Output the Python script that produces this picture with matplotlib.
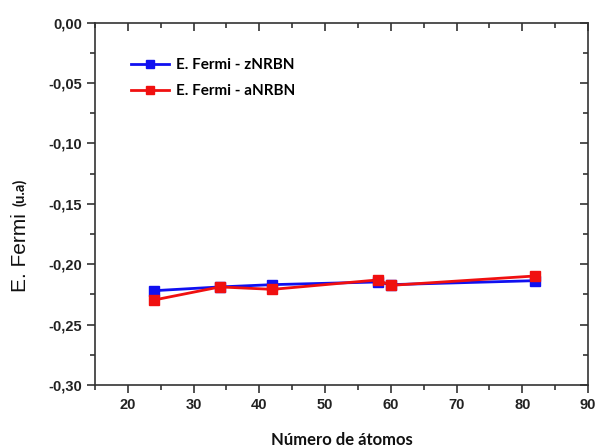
import matplotlib
matplotlib.use("Agg")
import matplotlib.pyplot as plt
from matplotlib.ticker import MultipleLocator, FuncFormatter

# Number of atoms and Fermi energy (u.a)
atoms = [24, 34, 42, 58, 60, 82]
fermi_z = [-0.2219, -0.2188, -0.2169, -0.2147, -0.2169, -0.2136]
fermi_a = [-0.2296, -0.2188, -0.2208, -0.2130, -0.2175, -0.2097]

BLUE = "#1010F0"
RED = "#F01010"
AXC = "#333333"

fig = plt.figure(figsize=(5.99, 4.48), dpi=100)
ax = fig.add_axes([95 / 599, 1 - 385 / 448, 493 / 599, 362.3 / 448])

ax.plot(atoms, fermi_z, color=BLUE, lw=2, marker="s", ms=7,
        label="E. Fermi - zNRBN")
ax.plot(atoms, fermi_a, color=RED, lw=2, marker="s", ms=7,
        label="E. Fermi - aNRBN")

ax.set_xlim(15, 90)
ax.set_ylim(-0.30, 0.0)
ax.xaxis.set_major_locator(MultipleLocator(10))
ax.xaxis.set_minor_locator(MultipleLocator(5))
ax.yaxis.set_major_locator(MultipleLocator(0.05))
ax.yaxis.set_minor_locator(MultipleLocator(0.025))
ax.yaxis.set_major_formatter(FuncFormatter(lambda v, p: f"{v:.2f}".replace(".", ",").replace("-0,00", "0,00")))

for s in ax.spines.values():
    s.set_color(AXC)
    s.set_linewidth(1.2)

ax.tick_params(which="both", direction="out", color=AXC, width=1.2,
               top=False, right=False)
ax.tick_params(which="major", length=6)
ax.tick_params(which="minor", length=3.5)
for lab in ax.get_xticklabels() + ax.get_yticklabels():
    lab.set_family("Liberation Sans")
    lab.set_fontweight("bold")
    lab.set_fontsize(10.5)
    lab.set_color("#222222")

# top / right axes carry inward ticks without labels
sec_x = ax.secondary_xaxis("top")
sec_x.xaxis.set_major_locator(MultipleLocator(10))
sec_x.xaxis.set_minor_locator(MultipleLocator(5))
sec_x.tick_params(which="both", direction="in", color=AXC, width=1.2, labeltop=False)
sec_x.tick_params(which="major", length=6)
sec_x.tick_params(which="minor", length=3.5)
sec_x.spines["top"].set_visible(False)
sec_y = ax.secondary_yaxis("right")
sec_y.yaxis.set_major_locator(MultipleLocator(0.05))
sec_y.yaxis.set_minor_locator(MultipleLocator(0.025))
sec_y.tick_params(which="both", direction="in", color=AXC, width=1.2, labelright=False)
sec_y.tick_params(which="major", length=6)
sec_y.tick_params(which="minor", length=3.5)
sec_y.spines["right"].set_visible(False)

ax.set_xlabel("Número de átomos", family="Lato", fontweight="bold",
              fontsize=12, labelpad=14, color="#111111")

fig.text(20 / 599, 1 - 253 / 448, "E. Fermi", rotation=90, ha="center",
         va="center", family="Liberation Sans", fontsize=15, color="#111111")
fig.text(20 / 599, 1 - 192 / 448, "(u.a)", rotation=90, ha="center",
         va="center", family="Lato", fontweight="bold", fontsize=10.5,
         color="#111111")

leg = ax.legend(loc="upper left", bbox_to_anchor=(0.045, 0.94), frameon=False,
                prop={"family": "Lato", "weight": "bold", "size": 11},
                handlelength=2.5, handletextpad=0.45, labelspacing=0.8,
                markerscale=0.75)

fig.savefig("out.png", dpi=100)
